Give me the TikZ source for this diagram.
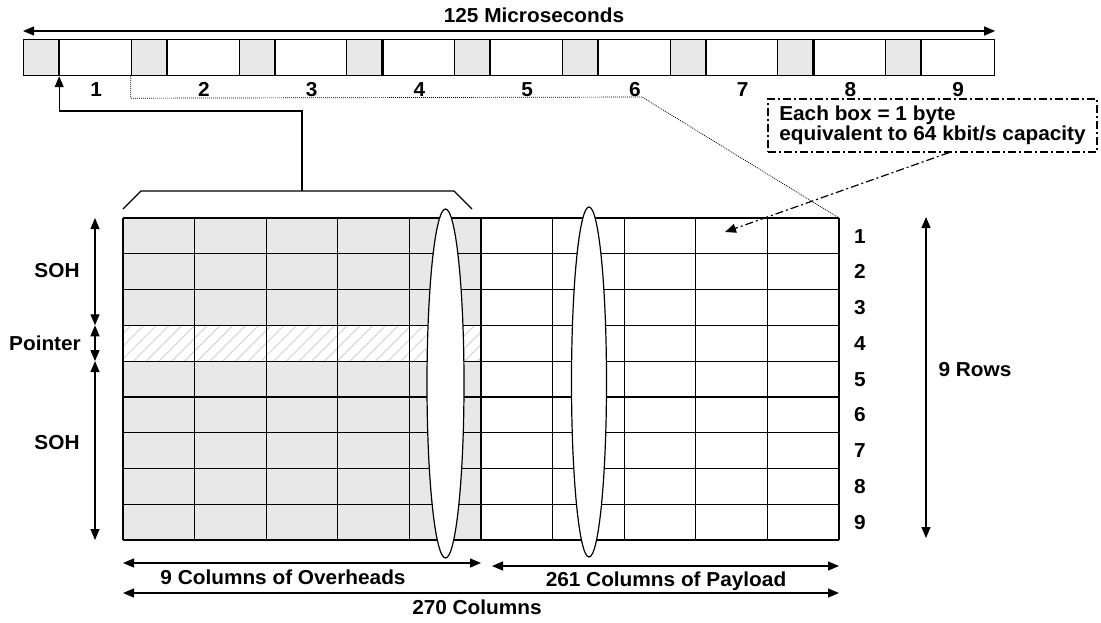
\documentclass[tikz,border=0pt]{standalone}
\usepackage{fontspec}
\setmainfont{Liberation Sans}[FakeStretch=1.03]
\usetikzlibrary{arrows.meta,positioning,shapes.geometric,patterns.meta}
\definecolor{cellgrey}{RGB}{232,232,232}
\definecolor{hatchgrey}{RGB}{212,212,212}

\begin{document}
\begin{tikzpicture}[x=1pt, y=1pt, line width=1.2pt,
  lbl/.style={font=\bfseries\fontsize{20.2}{18}\selectfont, inner sep=0pt},
  num/.style={lbl, text height=14.4pt, text depth=0pt},
  gbyte/.style={draw, fill=cellgrey, minimum width=35pt, minimum height=36pt,
                inner sep=0pt, anchor=north west},
  wbyte/.style={draw, fill=white, minimum width=72.75pt, minimum height=36pt,
                inner sep=0pt, anchor=north west},
  cut/.style={draw, ellipse, fill=white, inner sep=0pt},
  tip/.style={-{Triangle[length=11pt,width=9pt]}},
  dbl/.style={{Triangle[length=11pt,width=9pt]}-{Triangle[length=11pt,width=9pt]}},
  dashdot/.style={dash pattern=on 8pt off 3pt on 2pt off 3pt}
]
\useasboundingbox (0,0) rectangle (1101,-622);

% 125 us frame, 9 rows of bytes
\foreach \i in {1,...,9} {
  \node[gbyte] (g\i) at ({23+(\i-1)*107.75},-39) {};
  \node[wbyte] (w\i) at (g\i.north east) {};
  \node[num] (n\i) at ([yshift=-13pt]w\i.south) {\i};
}
\coordinate (fl) at ([yshift=8pt]g1.north west);
\coordinate (fr) at ([yshift=8pt]w9.north east);
\draw[dbl] (fl) -- (fr);
\node[lbl] (us) at (534,-15) {125 Microseconds};

% STM-1 grid
\coordinate (tl) at (123,-218);
\coordinate (tr) at (839,-218);
\fill[cellgrey] (tl) rectangle (481,-540);
\fill[white] (123,-325.3) rectangle (481,-361.1);
\fill[pattern={Lines[angle=45,distance=9pt,line width=1pt]}, pattern color=hatchgrey]
  (123,-325.3) rectangle (481,-361.1);
\foreach \c in {0,...,10}
  \draw ({123+\c*71.6},-218) -- ++(0,-322);
\foreach \r in {0,...,9}
  \draw (123,{-218-\r*35.78}) -- ++(716,0);
\node[cut, minimum width=37pt, minimum height=349pt] (cut1) at (445.5,-383.5) {};
\node[cut, minimum width=35pt, minimum height=350pt] (cut2) at (589,-382) {};

\foreach \i in {1,...,9}
  \node[num] (r\i) at (860,{-218-(\i-0.5)*35.78}) {\i};

% bracket and pointer to first byte
\coordinate (bk) at (302,-191);
\draw (123,-209) -- (141,-191) -- (454,-191) -- (472,-209);
\draw[tip] (bk) |- (w1.south west |- 0,-111) -- (w1.south west);
\draw[line width=0.7pt, dash pattern=on 1pt off 1pt]
  (g2.south west) -- ++(0,-22) -- (642,-97) -- (tr);

% note
\node[lbl, draw, dashdot, align=left, minimum width=329pt, minimum height=53pt,
      inner xsep=6pt, inner ysep=0pt] (note) at (932.5,-125.5)
  {Each box = 1 byte\\equivalent to 64 kbit/s capacity};
\coordinate (byte) at (725,-232);
\draw[tip, dashdot] ([xshift=16.5pt]note.south) -- (byte);

% left side
\coordinate (s0) at (95,-218);
\coordinate (s1) at (95,-325.3);
\coordinate (s2) at (95,-361.1);
\coordinate (s3) at (95,-540);
\draw[dbl] (s0) -- (s1);
\draw[dbl] (s1) -- (s2);
\draw[dbl] (s2) -- (s3);
\node[lbl] (soh1) at (57,-271) {SOH};
\node[lbl] (ptr) at (45,-343) {Pointer};
\node[lbl] (soh2) at (57,-443) {SOH};

% right side
\coordinate (v0) at (926,-217);
\coordinate (v1) at (926,-538);
\draw[dbl] (v1) -- (v0);
\node[lbl] (rows) at (975,-370) {9 Rows};

% columns
\coordinate (c0) at (123,-563);
\coordinate (c1) at (481,-563);
\coordinate (c2) at (492,-566);
\coordinate (c3) at (839,-566);
\draw[dbl] (c0) -- (c1);
\draw[dbl] (c2) -- (c3);
\draw[dbl] (c0 |- 0,-593) -- (c3 |- 0,-593);
\node[lbl] (oh) at (283,-577) {9 Columns of Overheads};
\node[lbl] (pl) at (666,-581) {261 Columns of Payload};
\node[lbl] (all) at (477,-607) {270 Columns};
\end{tikzpicture}
\end{document}
